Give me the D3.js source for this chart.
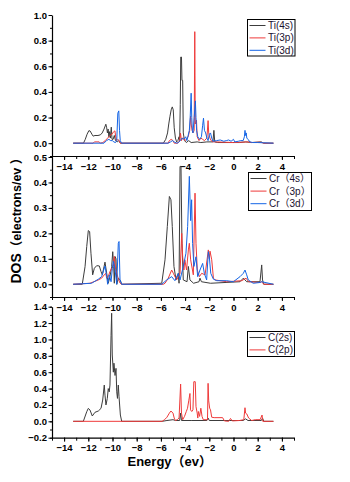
<!DOCTYPE html>
<html><head><meta charset="utf-8">
<script src="https://cdn.jsdelivr.net/npm/d3@7"></script>
<style>
html,body{margin:0;padding:0;background:#fff;}
svg{display:block;font-family:Arial,"Liberation Sans","Noto Sans CJK SC",sans-serif;}
</style></head>
<body><svg id="c" width="350" height="482"></svg>
<script>
// ---------------- data ----------------
const xTicks = [-14,-12,-10,-8,-6,-4,-2,0,2,4];

const tiLabels = ["Ti(4s)","Ti(3p)","Ti(3d)"];
const crLabels = ["Cr（4s）","Cr（3p）","Cr（3d）"];
const cLabels  = ["C(2s)","C(2p)"];

const ti4s = [[-13.25,0],[-12.4,0],[-12.25,0.03],[-12.1,0.07],[-11.95,0.098],[-11.85,0.095],[-11.7,0.07],[-11.6,0.055],[-11.45,0.06],[-11.2,0.06],[-11.0,0.065],[-10.85,0.08],[-10.7,0.11],[-10.55,0.148],[-10.48,0.12],[-10.42,0.08],[-10.36,0.11],[-10.3,0.05],[-10.24,0.09],[-10.18,0.04],[-10.1,0.125],[-10.04,0.03],[-9.95,0.03],[-9.85,0.06],[-9.75,0.02],[-9.6,0.01],[-9.5,0.02],[-9.35,0],[-5.8,0],[-5.6,0.03],[-5.45,0.08],[-5.35,0.15],[-5.25,0.21],[-5.15,0.26],[-5.06,0.283],[-4.98,0.26],[-4.9,0.12],[-4.8,0.04],[-4.7,0.01],[-4.6,0.02],[-4.5,0.05],[-4.45,0.02],[-4.4,0.3],[-4.36,0.672],[-4.3,0.672],[-4.26,0.49],[-4.2,0.49],[-4.15,0.08],[-4.05,0.02],[-3.9,0.005],[-3.7,0.02],[-3.5,0.005],[-3.0,0.01],[-2.7,0.005],[-2.2,0.01],[-1.7,0.01],[-1.62,0.1],[-1.55,0.01],[-1.3,0.005],[0.5,0.005],[1.0,0.01],[1.5,0.005],[2.3,0.01],[2.5,0],[3.3,0]];
const ti3p = [[-13.25,0],[-11.6,0],[-11.5,0.01],[-11.1,0.01],[-11.0,0],[-10.8,0.005],[-10.6,0.02],[-10.4,0.04],[-10.2,0.06],[-10.05,0.07],[-9.9,0.09],[-9.8,0.096],[-9.72,0.04],[-9.65,0.02],[-9.55,0.03],[-9.45,0.02],[-9.35,0],[-5.4,0],[-5.3,0.02],[-5.15,0.03],[-5.0,0.02],[-4.9,0],[-4.6,0],[-4.45,0.02],[-4.38,0.078],[-4.3,0.02],[-4.2,0.04],[-4.1,0.04],[-4.0,0.02],[-3.9,0.03],[-3.75,0.05],[-3.62,0.1],[-3.55,0.21],[-3.5,0.15],[-3.42,0.1],[-3.35,0.08],[-3.25,0.1],[-3.2,0.87],[-3.16,0.15],[-3.06,0.18],[-3.0,0.05],[-2.85,0.02],[-2.7,0.04],[-2.55,0.03],[-2.4,0.02],[-2.2,0.04],[-2.1,0.176],[-2.05,0.08],[-1.95,0.04],[-1.85,0.02],[-1.7,0.01],[-1.5,0.01],[0,0.005],[1.2,0.01],[1.5,0.005],[2.2,0.008],[2.5,0],[3.3,0]];
const ti3d = [[-13.25,0],[-10.7,0],[-10.5,0.02],[-10.3,0.03],[-10.15,0.02],[-10.0,0.02],[-9.9,0.01],[-9.75,0.005],[-9.65,0.02],[-9.56,0.234],[-9.48,0.252],[-9.42,0.1],[-9.36,0.02],[-9.25,0],[-5.4,0],[-5.2,0.01],[-5.05,0.02],[-4.9,0.01],[-4.7,0],[-4.55,0.005],[-4.4,0.02],[-4.25,0.04],[-4.1,0.03],[-3.95,0.05],[-3.85,0.02],[-3.75,0.06],[-3.65,0.1],[-3.58,0.2],[-3.5,0.39],[-3.45,0.2],[-3.4,0.1],[-3.35,0.08],[-3.25,0.2],[-3.15,0.33],[-3.1,0.2],[-3.05,0.1],[-2.95,0.05],[-2.8,0.03],[-2.65,0.05],[-2.55,0.14],[-2.48,0.195],[-2.4,0.1],[-2.3,0.08],[-2.2,0.04],[-2.1,0.02],[-2.0,0.07],[-1.9,0.08],[-1.8,0.04],[-1.7,0.015],[-1.4,0.02],[-1.1,0.025],[-0.8,0.015],[-0.6,0.02],[-0.4,0.025],[-0.2,0.015],[0,0.03],[0.1,0.01],[0.4,0.015],[0.6,0.02],[0.8,0.02],[0.9,0.05],[0.95,0.1],[1.0,0.06],[1.05,0.08],[1.1,0.04],[1.2,0.03],[1.35,0.01],[1.6,0.005],[2.0,0.005],[2.5,0.003],[3.3,0]];

const cr4s = [[-13.25,0],[-12.5,0],[-12.27,0.069],[-12.13,0.148],[-12.0,0.211],[-11.89,0.207],[-11.78,0.122],[-11.64,0.037],[-11.5,0.063],[-11.31,0.073],[-11.09,0.072],[-10.95,0.05],[-10.84,0.037],[-10.7,0.069],[-10.62,0.087],[-10.48,0.043],[-10.35,0.004],[-10.21,0.03],[-10.07,0.069],[-9.98,0.128],[-9.9,0.069],[-9.85,0.004],[-9.79,0.109],[-9.71,0.1],[-9.65,0],[-9.52,0.024],[-9.38,0.018],[-9.24,0],[-5.93,0.004],[-5.66,0.096],[-5.47,0.227],[-5.3,0.345],[-5.17,0.332],[-5.06,0.227],[-4.92,0.07],[-4.75,0.017],[-4.56,0.043],[-4.5,0.004],[-4.42,0.463],[-4.34,0.463],[-4.26,0.161],[-4.15,0.017],[-3.84,0.01],[-3.73,0.07],[-3.6,0.017],[-3.3,0.004],[-2.85,0.01],[-2.77,0.024],[-2.65,0.01],[-1.9,0.004],[0.54,0.01],[0.81,0.024],[1.09,0.01],[2.19,0.01],[2.33,0.076],[2.4,0.017],[2.5,0],[3.3,0]];
const cr3p = [[-13.25,0],[-11.86,0.004],[-11.17,0.017],[-10.9,0.024],[-10.68,0.037],[-10.56,0.043],[-10.48,0.024],[-10.35,0.03],[-10.21,0.05],[-10.07,0.063],[-9.93,0.076],[-9.85,0.109],[-9.74,0.058],[-9.65,0.045],[-9.52,0.02],[-9.38,0.005],[-9.24,0],[-5.8,0],[-5.66,0.004],[-5.39,0.024],[-5.11,0.056],[-4.97,0.043],[-4.7,0.017],[-4.42,0.043],[-4.28,0.2],[-4.2,0.108],[-4.1,0.056],[-4.02,0.096],[-3.88,0.056],[-3.73,0.135],[-3.65,0.161],[-3.54,0.096],[-3.32,0.037],[-3.18,0.358],[-3.1,0.161],[-2.99,0.056],[-2.82,0.03],[-2.63,0.043],[-2.35,0.037],[-2.08,0.135],[-2.0,0.1],[-1.94,0.13],[-1.8,0.096],[-1.66,0.024],[-1.52,0.017],[-0.56,0.01],[0.68,0.014],[1.04,0.024],[1.25,0.01],[2.19,0.007],[2.33,0.01],[2.5,0],[3.3,0]];
const cr3d = [[-13.25,0],[-11.73,0.004],[-11.17,0.02],[-10.9,0.03],[-10.62,0.072],[-10.48,0.03],[-10.4,0],[-10.26,0.037],[-10.12,0.01],[-10.01,0.063],[-9.93,0.09],[-9.79,0.058],[-9.65,0],[-9.52,0.161],[-9.46,0.168],[-9.38,0.018],[-9.24,0],[-5.93,0],[-5.52,0.017],[-5.11,0.03],[-4.84,0.014],[-4.56,0.043],[-4.42,0.017],[-4.15,0.07],[-3.93,0.122],[-3.79,0.227],[-3.65,0.424],[-3.54,0.25],[-3.46,0.332],[-3.38,0.16],[-3.27,0.07],[-3.1,0.108],[-2.96,0.03],[-2.77,0.056],[-2.55,0.082],[-2.41,0.043],[-2.22,0.017],[-2.08,0.128],[-2.0,0.108],[-1.88,0.043],[-1.66,0.02],[-1.38,0.014],[-0.56,0.014],[-0.01,0.01],[0.54,0.03],[0.81,0.043],[0.95,0.056],[1.09,0.037],[1.22,0.017],[1.63,0.004],[2.19,0.007],[2.33,0.01],[3.3,0]];

const c2s = [[-13.25,0],[-12.41,0],[-12.13,0.117],[-12.0,0.158],[-11.86,0.138],[-11.67,0.065],[-11.45,0.11],[-11.17,0.126],[-10.95,0.158],[-10.81,0.26],[-10.68,0.443],[-10.62,0.32],[-10.54,0.2],[-10.43,0.28],[-10.35,0.4],[-10.27,0.36],[-10.21,0.443],[-10.12,1.05],[-10.07,1.32],[-10.02,0.81],[-9.93,0.6],[-9.88,0.71],[-9.79,0.56],[-9.71,0.647],[-9.65,0.36],[-9.59,0.28],[-9.52,0.443],[-9.46,0.3],[-9.35,0.077],[-9.24,0],[-5.9,0],[-5.5,0.01],[-5.0,0.02],[-4.8,0.01],[-4.45,0.01],[-4.37,0.1],[-4.3,0.01],[-3.5,0.01],[-2.2,0.01],[-2.1,0.04],[-2.0,0.01],[0.8,0.01],[1.0,0.03],[1.2,0.01],[2.3,0.01],[2.4,0.04],[2.5,0],[3.3,0]];
const c2p = [[-13.25,0],[-5.9,0],[-5.7,0.02],[-5.5,0.05],[-5.3,0.1],[-5.17,0.126],[-5.0,0.1],[-4.9,0.04],[-4.8,0.01],[-4.65,0.02],[-4.5,0.04],[-4.37,0.455],[-4.3,0.1],[-4.2,0.02],[-4.05,0.06],[-3.9,0.12],[-3.8,0.16],[-3.7,0.25],[-3.6,0.34],[-3.55,0.14],[-3.45,0.12],[-3.35,0.14],[-3.28,0.484],[-3.16,0.484],[-3.1,0.18],[-3.0,0.1],[-2.95,0.04],[-2.9,0.12],[-2.8,0.06],[-2.7,0.16],[-2.6,0.06],[-2.5,0.02],[-2.15,0.02],[-2.1,0.464],[-2.05,0.25],[-1.97,0.16],[-1.9,0.14],[-1.8,0.05],[-1.6,0.045],[-0.9,0.045],[-0.75,0.005],[-0.4,0],[-0.25,0.035],[-0.1,0.005],[0.5,0.01],[0.85,0.02],[0.95,0.166],[1.0,0.1],[1.1,0.09],[1.25,0.04],[1.5,0.01],[1.8,0.02],[2.2,0.02],[2.36,0.077],[2.42,0],[3.3,0]];

// ---------------- drawing ----------------
const colors = ["#3c3c3c","#ef3a3a","#1565e6"];
const svg = d3.select("#c");
const x = d3.scaleLinear().domain([-15,5]).range([52,294]);

const panels = [
  {series:[ti4s,ti3p,ti3d], labels:tiLabels, cols:colors, dom:[-0.1,1.0], rng:[156,15], major:0.2, fmt:".1f", legend:{x:247.5,y:19.5,w:47.5,h:36.5,dy:12.4}},
  {series:[cr4s,cr3p,cr3d], labels:crLabels, cols:colors, dom:[-0.05,0.5], rng:[297,157], major:0.1, fmt:".1f", legend:{x:248.5,y:172.5,w:63,h:38,dy:12.6}},
  {series:[c2s,c2p], labels:cLabels, cols:[colors[0],colors[1]], dom:[-0.2,1.4], rng:[437.7,306.7], major:0.2, fmt:".1f", legend:{x:247.5,y:331.5,w:47,h:25,dy:12.4}}
];

const fs = "bold 9.5px Arial, 'Liberation Sans', sans-serif";

panels.forEach(p => {
  const y = d3.scaleLinear().domain(p.dom).range(p.rng);
  const g = svg.append("g");
  const line = d3.line().x(d => x(d[0])).y(d => y(d[1]));
  p.series.forEach((s,i) => {
    g.append("path").datum(s).attr("d", line).attr("fill","none")
      .attr("stroke", p.cols[i]).attr("stroke-width",1).attr("stroke-linejoin","miter");
  });
  const n = Math.round((p.dom[1]-0)/p.major);
  const nNeg = Math.round((0-p.dom[0])/p.major);
  const majors = d3.range(-Math.floor(nNeg+1e-9), n+1).map(k => +(k*p.major).toFixed(3)).filter(v => v >= p.dom[0]-1e-9);
  const minors = d3.range(-Math.floor(nNeg*2+1e-9), n*2+1).map(k => +(k*p.major/2).toFixed(3)).filter(v => v >= p.dom[0]-1e-9 && v <= p.dom[1]+1e-9);
  const yMinor = g.append("g").attr("transform","translate(52,0)")
    .call(d3.axisLeft(y).tickValues(minors).tickSize(2).tickSizeOuter(0).tickFormat(""));
  yMinor.select(".domain").remove();
  const yAx = g.append("g").attr("transform","translate(52,0)")
    .call(d3.axisLeft(y).tickValues(majors).tickSize(3.5).tickSizeOuter(0).tickPadding(1.5).tickFormat(d3.format(p.fmt)));
  yAx.selectAll("text").style("font", fs).attr("fill","#000");
  const by = p.rng[0];
  const xMinor = g.append("g").attr("transform",`translate(0,${by})`)
    .call(d3.axisBottom(x).tickValues(d3.range(-15,6,1)).tickSize(3).tickSizeOuter(0).tickFormat(""));
  xMinor.select(".domain").remove();
  const xAx = g.append("g").attr("transform",`translate(0,${by})`)
    .call(d3.axisBottom(x).tickValues(xTicks).tickSize(4).tickSizeOuter(0).tickPadding(3).tickFormat(d3.format("d")));
  xAx.selectAll("text").style("font", fs).attr("fill","#000");
  g.selectAll(".domain").attr("stroke","#000").attr("stroke-width",1.2);
  g.selectAll(".tick line").attr("stroke","#000");
  const L = p.legend;
  const lg = g.append("g");
  lg.append("rect").attr("x",L.x).attr("y",L.y).attr("width",L.w).attr("height",L.h)
    .attr("fill","#fff").attr("stroke","#000").attr("stroke-width",1);
  p.labels.forEach((t,i) => {
    const yy = L.y + 6 + i*L.dy;
    lg.append("line").attr("x1",L.x+2).attr("x2",L.x+18).attr("y1",yy).attr("y2",yy)
      .attr("stroke",p.cols[i]).attr("stroke-width",1);
    lg.append("text").attr("x",L.x+20.5).attr("y",yy+3.5).text(t)
      .style("font","10px Arial, 'Liberation Sans', 'Noto Sans CJK SC', sans-serif").attr("fill","#1c1230");
  });
});

// axis titles
const yt = svg.append("text").attr("transform","translate(20.5,283.5) rotate(-90)")
  .attr("text-anchor","start").attr("fill","#000");
yt.append("tspan").text("DOS").style("font","bold 14px Arial, 'Liberation Sans', sans-serif");
yt.append("tspan").text("（electrons/ev ）").style("font","bold 12.5px Arial, 'Liberation Sans', 'Noto Sans CJK SC', sans-serif");

svg.append("text").attr("x",127.5).attr("y",465.5).attr("fill","#000")
  .style("font","bold 13px Arial, 'Liberation Sans', 'Noto Sans CJK SC', sans-serif")
  .text("Energy（ev）");
</script>
</body></html>
